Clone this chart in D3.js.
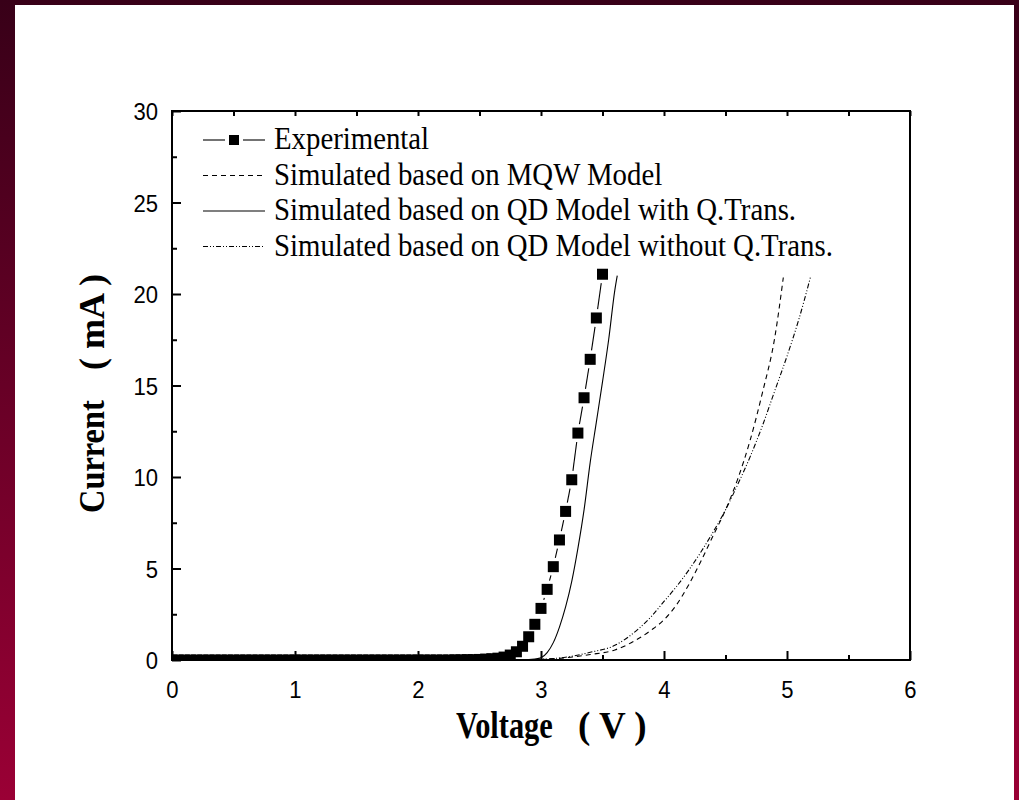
<!DOCTYPE html>
<html>
<head>
<meta charset="utf-8">
<script src="https://cdn.jsdelivr.net/npm/d3@7"></script>
<style>
  html, body { margin: 0; padding: 0; background: #fff; }
  svg { display: block; }
  text { white-space: pre; }
</style>
</head>
<body>
<svg id="chart" width="1019" height="800"></svg>
<script>
// Measured I–V characteristics (V in volts, I in mA)
const expVoltage = [0.00,0.05,0.10,0.15,0.20,0.25,0.30,0.35,0.40,0.45,0.50,0.55,0.60,0.65,0.70,0.75,0.80,0.85,0.90,0.95,
  1.00,1.05,1.10,1.15,1.20,1.25,1.30,1.35,1.40,1.45,1.50,1.55,1.60,1.65,1.70,1.75,1.80,1.85,1.90,1.95,
  2.00,2.05,2.10,2.15,2.20,2.25,2.30,2.35,2.40,2.45,2.50,2.55,2.60,2.65,2.70,2.75,2.80,2.85,2.90,2.95,
  3.00,3.05,3.10,3.15,3.20,3.25,3.30,3.35,3.40,3.45,3.50];
const expCurrent = [0,0,0,0,0,0,0,0,0,0,0,0,0,0,0,0,0,0,0,0,
  0,0,0,0,0,0,0,0,0,0,0,0,0,0,0,0,0,0,0,0,
  0,0,0,0,0,0,0.01,0.01,0.02,0.02,0.03,0.05,0.07,0.10,0.16,0.27,0.45,0.75,1.27,1.95,
  2.82,3.86,5.10,6.56,8.12,9.85,12.40,14.33,16.43,18.69,21.08];

// Simulation: MQW model
const mqwVoltage = [0, 2.8, 3.0, 3.2, 3.4, 3.6, 3.8, 3.9, 4.0, 4.1, 4.2, 4.3, 4.4, 4.5, 4.6, 4.7, 4.8, 4.9, 4.97];
const mqwCurrent = [0, 0, 0.03, 0.12, 0.30, 0.55, 1.20, 1.65, 2.20, 3.00, 4.10, 5.40, 6.80, 8.20, 9.90, 12.00, 14.60, 17.60, 20.90];

// Simulation: QD model with quantum transport
const qdWithVoltage = [0, 2.5, 2.8, 2.9, 2.95, 3.0, 3.05, 3.1, 3.15, 3.2, 3.25, 3.3, 3.35, 3.4, 3.45, 3.5, 3.55, 3.6, 3.62];
const qdWithCurrent = [0, 0, 0.01, 0.02, 0.05, 0.12, 0.40, 0.95, 1.80, 2.90, 4.30, 6.10, 8.20, 10.80, 13.00, 15.20, 17.50, 20.20, 21.00];

// Simulation: QD model without quantum transport
const qdWithoutVoltage = [0, 2.8, 3.0, 3.2, 3.4, 3.6, 3.8, 3.9, 4.0, 4.1, 4.2, 4.3, 4.4, 4.5, 4.6, 4.7, 4.8, 4.9, 5.0, 5.1, 5.19];
const qdWithoutCurrent = [0, 0, 0.04, 0.15, 0.42, 0.80, 1.75, 2.40, 3.20, 4.00, 4.90, 5.90, 7.00, 8.20, 9.60, 11.10, 12.80, 14.70, 16.60, 18.70, 20.90];

const xTickValues = [0, 1, 2, 3, 4, 5, 6];
const xMinorValues = [0.5, 1.5, 2.5, 3.5, 4.5, 5.5];
const yTickValues = [0, 5, 10, 15, 20, 25, 30];
const yMinorValues = [2.5, 7.5, 12.5, 17.5, 22.5, 27.5];

const legendLabels = [
  "Experimental",
  "Simulated based on MQW Model",
  "Simulated based on QD Model with Q.Trans.",
  "Simulated based on QD Model without Q.Trans."
];

const svg = d3.select("#chart");

// Page frame: maroon gradient border around a white sheet
const defs = svg.append("defs");
const grad = defs.append("linearGradient").attr("id", "frameGrad")
  .attr("x1", 0).attr("y1", 0).attr("x2", 0).attr("y2", 1);
grad.append("stop").attr("offset", "0%").attr("stop-color", "#380018");
grad.append("stop").attr("offset", "100%").attr("stop-color", "#9a0035");
svg.append("rect").attr("width", 1019).attr("height", 800).attr("fill", "url(#frameGrad)");
svg.append("rect").attr("x", 15).attr("y", 5).attr("width", 999).attr("height", 795).attr("fill", "#fff");

const plotLeft = 172, plotRight = 910, plotTop = 111, plotBottom = 660;
const x = d3.scaleLinear().domain([0, 6]).range([plotLeft, plotRight]);
const y = d3.scaleLinear().domain([0, 30]).range([plotBottom, plotTop]);

defs.append("clipPath").attr("id", "plotClip")
  .append("rect").attr("x", plotLeft).attr("y", plotTop)
  .attr("width", plotRight - plotLeft).attr("height", plotBottom - plotTop);

const plot = svg.append("g").attr("clip-path", "url(#plotClip)");

const line = d3.line().x(d => x(d[0])).y(d => y(d[1])).curve(d3.curveMonotoneX);
const zip = (a, b) => a.map((v, i) => [v, b[i]]);

const styles = {
  mqw: { dash: "5,4" },
  qdWith: { dash: null },
  qdWithout: { dash: "5,2,1,2,1,2" }
};

function drawCurve(g, data, dash) {
  g.append("path").datum(data)
    .attr("d", line)
    .attr("fill", "none")
    .attr("stroke", "#000")
    .attr("stroke-width", 1.1)
    .attr("stroke-dasharray", dash);
}

drawCurve(plot, zip(mqwVoltage, mqwCurrent), styles.mqw.dash);
drawCurve(plot, zip(qdWithVoltage, qdWithCurrent), styles.qdWith.dash);
drawCurve(plot, zip(qdWithoutVoltage, qdWithoutCurrent), styles.qdWithout.dash);

// Experimental: connecting line broken around each marker
const expData = zip(expVoltage, expCurrent);
const gap = 9;
for (let i = 0; i < expData.length - 1; i++) {
  const x0 = x(expData[i][0]), y0 = y(expData[i][1]);
  const x1 = x(expData[i + 1][0]), y1 = y(expData[i + 1][1]);
  const len = Math.hypot(x1 - x0, y1 - y0);
  if (len <= 2 * gap) continue;
  const ux = (x1 - x0) / len, uy = (y1 - y0) / len;
  plot.append("line")
    .attr("x1", x0 + ux * gap).attr("y1", y0 + uy * gap)
    .attr("x2", x1 - ux * gap).attr("y2", y1 - uy * gap)
    .attr("stroke", "#000").attr("stroke-width", 1.1);
}
const sq = 11;
plot.selectAll("rect.pt").data(expData).join("rect")
  .attr("class", "pt")
  .attr("x", d => x(d[0]) - sq / 2)
  .attr("y", d => y(d[1]) - sq / 2)
  .attr("width", sq).attr("height", sq)
  .attr("fill", "#000");

// Axes (ticks pointing inward)
const axisColor = "#000";
function styleAxis(g) {
  g.select(".domain").remove();
  g.selectAll(".tick line").attr("stroke", axisColor).attr("stroke-width", 2);
}
const tickFont = "'Liberation Sans', Arial, sans-serif";
const tickScale = 0.92;
const tickSize = 24;

const xAxis = svg.append("g").attr("transform", `translate(0,${plotBottom})`)
  .call(d3.axisBottom(x).tickValues(xTickValues).tickSizeInner(-9).tickSizeOuter(0).tickPadding(0).tickFormat(d3.format("d")));
styleAxis(xAxis);
xAxis.selectAll(".tick text")
  .attr("y", 38).attr("dy", null)
  .attr("font-family", tickFont).attr("font-size", tickSize).attr("fill", "#000")
  .attr("transform", `scale(${tickScale},1)`);

const xMinor = svg.append("g").attr("transform", `translate(0,${plotBottom})`)
  .call(d3.axisBottom(x).tickValues(xMinorValues).tickSizeInner(-5).tickSizeOuter(0).tickFormat(""));
styleAxis(xMinor);

const xTop = svg.append("g").attr("transform", `translate(0,${plotTop})`)
  .call(d3.axisTop(x).tickValues(xTickValues.concat(xMinorValues)).tickSizeInner(-5).tickSizeOuter(0).tickFormat(""));
styleAxis(xTop);

const yAxis = svg.append("g").attr("transform", `translate(${plotLeft},0)`)
  .call(d3.axisLeft(y).tickValues(yTickValues).tickSizeInner(-9).tickSizeOuter(0).tickPadding(0).tickFormat(d3.format("d")));
styleAxis(yAxis);
yAxis.selectAll(".tick text")
  .attr("x", -14 / tickScale).attr("dy", "0.36em")
  .attr("font-family", tickFont).attr("font-size", tickSize).attr("fill", "#000")
  .attr("text-anchor", "end")
  .attr("transform", `scale(${tickScale},1)`);

const yMinor = svg.append("g").attr("transform", `translate(${plotLeft},0)`)
  .call(d3.axisLeft(y).tickValues(yMinorValues).tickSizeInner(-5).tickSizeOuter(0).tickFormat(""));
styleAxis(yMinor);

// Plot frame
svg.append("rect")
  .attr("x", plotLeft).attr("y", plotTop)
  .attr("width", plotRight - plotLeft).attr("height", plotBottom - plotTop)
  .attr("fill", "none").attr("stroke", axisColor).attr("stroke-width", 2);

// Axis titles: word set condensed, unit in parentheses at full width
const serif = "'Liberation Serif', 'Times New Roman', serif";
function titlePart(transform, str, size) {
  svg.append("g").attr("transform", transform)
    .append("text")
    .attr("font-family", serif).attr("font-weight", "bold").attr("font-size", size).attr("fill", "#000")
    .text(str);
}
titlePart("translate(456,738) scale(0.8,1)", "Voltage", 38);
titlePart("translate(578,738)", "( V )", 37);
titlePart("translate(104,513) rotate(-90) scale(0.9,1)", "Current", 36);
titlePart("translate(104,370) rotate(-90)", "( mA )", 36);

// Legend
const legendX0 = 203, legendX1 = 265, legendTextX = 274;
const legendBase = [149, 184.5, 220, 255.5];
const legendDash = [null, styles.mqw.dash, styles.qdWith.dash, styles.qdWithout.dash];
const legend = svg.append("g");
legendLabels.forEach((label, i) => {
  const ly = legendBase[i] - 9;
  if (i === 0) {
    legend.append("line").attr("x1", legendX0).attr("x2", legendX0 + 22).attr("y1", ly).attr("y2", ly)
      .attr("stroke", "#000").attr("stroke-width", 1.1);
    legend.append("line").attr("x1", legendX1 - 22).attr("x2", legendX1).attr("y1", ly).attr("y2", ly)
      .attr("stroke", "#000").attr("stroke-width", 1.1);
    const cx = (legendX0 + legendX1) / 2;
    legend.append("rect").attr("x", cx - 5).attr("y", ly - 5).attr("width", 10).attr("height", 10).attr("fill", "#000");
  } else {
    legend.append("line").attr("x1", legendX0).attr("x2", legendX1).attr("y1", ly).attr("y2", ly)
      .attr("stroke", "#000").attr("stroke-width", 1.1).attr("stroke-dasharray", legendDash[i]);
  }
  legend.append("g").attr("transform", `translate(${legendTextX},${legendBase[i]}) scale(0.9,1)`)
    .append("text")
    .attr("font-family", serif).attr("font-size", 32).attr("fill", "#000")
    .text(label);
});
</script>
</body>
</html>
